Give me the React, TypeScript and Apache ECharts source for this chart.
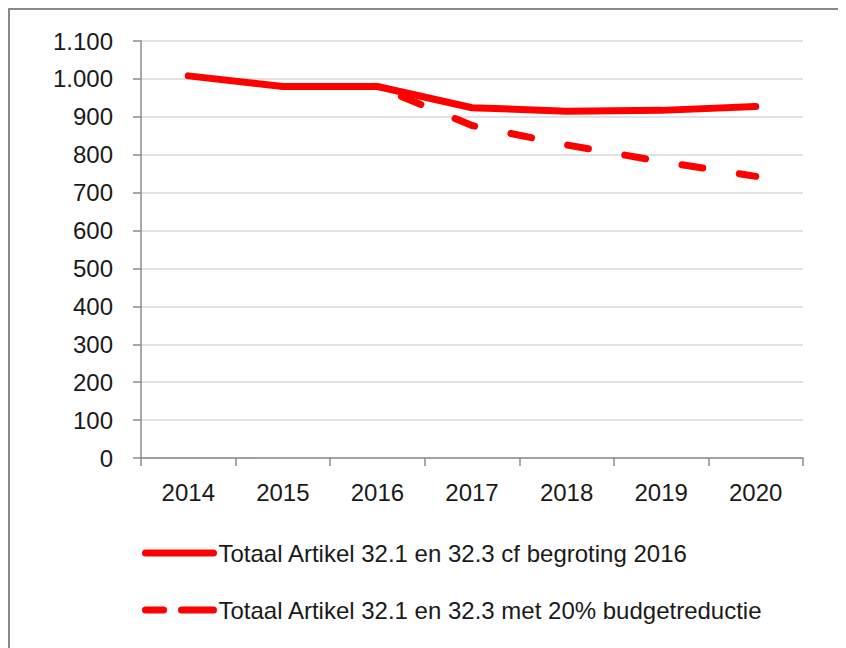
import React, { useEffect, useRef } from "react";
import * as echarts from "echarts";

const years = ["2014", "2015", "2016", "2017", "2018", "2019", "2020"];
const seriesNames = [
  "Totaal Artikel 32.1 en 32.3 cf begroting 2016",
  "Totaal Artikel 32.1 en 32.3 met 20% budgetreductie",
];
const begroting = [1008, 980, 980, 924, 915, 917, 927];
const reductie = [null, null, 980, 877, 826, 782, 743];

const fmt = (v: number) => String(v).replace(/\B(?=(\d{3})+(?!\d))/g, ".");

export default function App() {
  const ref = useRef<HTMLDivElement>(null);
  useEffect(() => {
    if (!ref.current) return;
    const chart = echarts.init(ref.current, null, { renderer: "svg" });
    const font = "'Liberation Sans', Arial, sans-serif";
    chart.setOption({
      animation: false,
      backgroundColor: "#ffffff",
      textStyle: { fontFamily: font },
      graphic: [
        { type: "line", shape: { x1: 0, y1: 1, x2: 838, y2: 1 }, style: { stroke: "#8a8a8a", lineWidth: 2 } },
        { type: "line", shape: { x1: 1, y1: 0, x2: 1, y2: 640 }, style: { stroke: "#8a8a8a", lineWidth: 2 } },
      ],
      grid: { left: 133, top: 33, width: 662, height: 417, containLabel: false },
      xAxis: {
        type: "category",
        data: years,
        boundaryGap: true,
        axisLine: { lineStyle: { color: "#8c8c8c", width: 1.5 } },
        axisTick: { show: true, length: 8, alignWithLabel: false, lineStyle: { color: "#8c8c8c", width: 1.5 } },
        axisLabel: { color: "#1a1a1a", fontSize: 24, margin: 22, fontFamily: font },
        splitLine: { show: false },
      },
      yAxis: {
        type: "value",
        min: 0,
        max: 1100,
        interval: 100,
        axisLine: { show: true, lineStyle: { color: "#8c8c8c", width: 1.5 } },
        axisTick: { show: true, length: 8, lineStyle: { color: "#8c8c8c", width: 1.5 } },
        axisLabel: { color: "#1a1a1a", fontSize: 24, margin: 28, fontFamily: font, formatter: (v: number) => fmt(v) },
        splitLine: { show: true, lineStyle: { color: "#d9d9d9", width: 1.5 } },
      },
      legend: {
        orient: "vertical",
        left: 134,
        top: 533,
        padding: 0,
        itemWidth: 68,
        itemHeight: 24,
        itemGap: 33,
        textStyle: { color: "#1a1a1a", fontSize: 24, fontFamily: font },
        itemStyle: { opacity: 0 },
        lineStyle: { width: 7, cap: "round" },
        data: [
          { name: seriesNames[0], itemStyle: { opacity: 0 }, lineStyle: { width: 7, type: "solid", cap: "round" } },
          { name: seriesNames[1], itemStyle: { opacity: 0 }, lineStyle: { width: 7, type: [18, 18, 60, 10], dashOffset: 0, cap: "round" } },
        ],
      },
      series: [
        {
          name: seriesNames[1],
          type: "line",
          data: reductie,
          symbol: "none",
          connectNulls: false,
          lineStyle: { color: "#ff0000", width: 7, type: [21, 37], dashOffset: 32, cap: "round", join: "round" },
          itemStyle: { color: "#ff0000" },
        },
        {
          name: seriesNames[0],
          type: "line",
          data: begroting,
          symbol: "none",
          lineStyle: { color: "#ff0000", width: 7, cap: "round", join: "round" },
          itemStyle: { color: "#ff0000" },
        },
      ],
    });
    return () => chart.dispose();
  }, []);
  return <div ref={ref} style={{ width: 838, height: 640 }} />;
}
